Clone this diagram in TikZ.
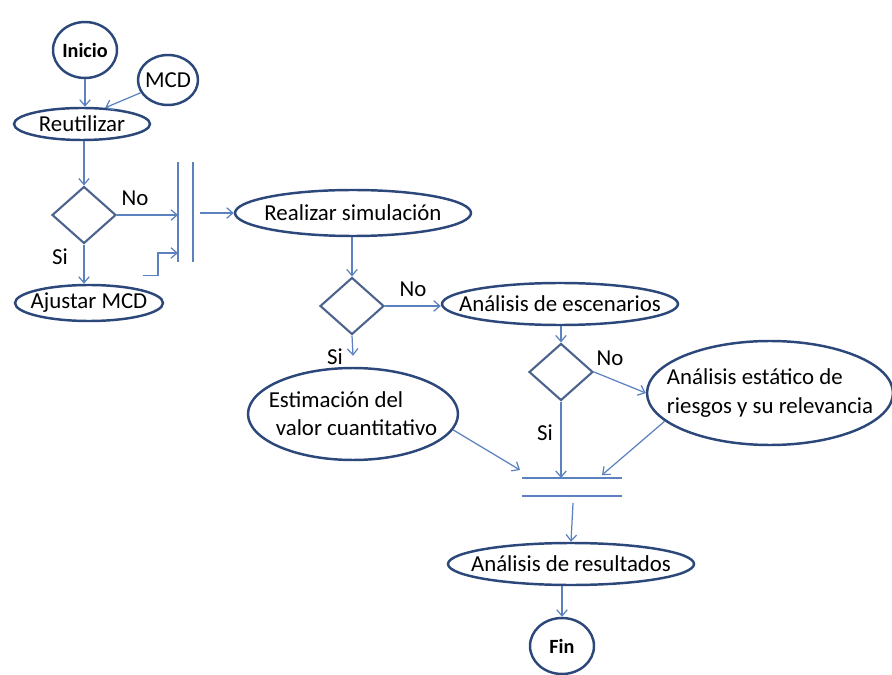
\documentclass[tikz,border=0pt]{standalone}
\usepackage{fontspec}
\setmainfont{Carlito}
\usetikzlibrary{arrows.meta,calc,shapes.geometric}
\definecolor{borde}{RGB}{44,72,122}
\definecolor{linea}{RGB}{91,130,190}

\begin{document}
\begin{tikzpicture}[x=0.02cm,y=-0.02cm,
	elip/.style={ellipse,draw=borde,line width=1.4pt,inner xsep=-20pt,inner ysep=0pt,font=\fontsize{13}{16}\selectfont},
	rombo/.style={diamond,draw=borde!85,line width=1.2pt,inner sep=0pt,minimum width=1.28cm,minimum height=1.14cm},
	flecha/.style={draw=linea,line width=0.7pt,-{Straight Barb[length=3.5pt,width=6pt]}},
	barra/.style={draw=linea,line width=0.8pt},
	etiq/.style={font=\fontsize{13}{15}\selectfont}]
	\useasboundingbox (0,0) rectangle (892,675);
	\node[elip,minimum width=1.28cm,minimum height=1.12cm,font=\fontsize{11.5}{14}\selectfont\bfseries] (ini) at (85,50) {Inicio};
	\node[elip,minimum width=1.2cm,minimum height=1cm] (mcd) at (168,80) {MCD};
	\node[elip,minimum width=2.72cm,minimum height=.64cm] (reu) at (82,124) {Reutilizar};
	\node[rombo] (d1) at (84,215) {};
	\node[elip,minimum width=2.96cm,minimum height=.72cm] (aju) at (89,303) {Ajustar MCD};
	\node[elip,minimum width=4.72cm,minimum height=.92cm] (rea) at (353,213) {Realizar simulación};
	\node[rombo] (d2) at (352,306) {};
	\node[elip,minimum width=4.72cm,minimum height=.84cm] (esc) at (560,304) {Análisis de escenarios};
	\node[elip,minimum width=4.2cm,minimum height=1.84cm,align=left] (est) at (353,414) {Estimación del\\\hspace{4pt}valor cuantitativo};
	\node[rombo] (d3) at (561,372) {};
	\node[elip,minimum width=4.92cm,minimum height=2.08cm,align=left] (sta) at (770,393) {Análisis estático de\\riesgos y su relevancia};
	\node[elip,minimum width=4.92cm,minimum height=.84cm] (res) at (571,564) {Análisis de resultados};
	\node[elip,minimum width=1.28cm,minimum height=1.12cm,font=\fontsize{11.5}{14}\selectfont\bfseries] (fin) at (562,646) {Fin};
	% barras de sincronizacion
	\path
	(178,162) coordinate (b1a) (178,262) coordinate (b1b)
	(193,162) coordinate (b1c) (193,262) coordinate (b1d)
	(522,478) coordinate (b2a) (622,478) coordinate (b2b)
	(522,496) coordinate (b2c) (622,496) coordinate (b2d)
	;
	\draw[barra] (b1a)--(b1b) (b1c)--(b1d) (b2a)--(b2b) (b2c)--(b2d);
	% flechas
	\draw[flecha] (ini.south) -- (ini.south |- reu.north);
	\draw[flecha] (mcd.205) -- (reu.35);
	\draw[flecha] (d1.north |- reu.south) -- (d1.north);
	\draw[flecha] (d1.east) -- (d1.east -| b1a);
	\draw[flecha] (d1.south) -- (d1.south |- aju.north);
	\draw[flecha] ($(aju.north)+(54,-8)$) -- ++(15,0) |- ($(b1a)+(0,91)$);
	\draw[flecha] ($(b1c |- rea.west)+(7,0)$) -- (rea.west);
	\draw[flecha] (rea.south -| d2.north) -- (d2.north);
	\draw[flecha] (d2.east) -- (d2.east -| esc.west);
	\draw[flecha] (d2.south) -- ($(est.north)+(0,-11)$);
	\draw[flecha] (esc.south -| d3.north) -- (d3.north);
	\draw[flecha] (d3.east) -- (sta.west);
	\draw[flecha] (d3.south) -- (d3.south |- b2a);
	\draw[flecha] (est.-9) -- ($(b2a)+(-2,-8)$);
	\draw[flecha] (sta.195) -- ($(b2a)+(80,-3)$);
	\draw[flecha] ($(b2c)+(51,7)$) -- (res.north);
	\draw[flecha] (res.south -| fin.north) -- (fin.north);
	% etiquetas
	\node[etiq] (no1) at (135,198) {No};
	\node[etiq] (si1) at (60,257) {Si};
	\node[etiq] (no2) at (413,289) {No};
	\node[etiq] (si2) at (335,357) {Si};
	\node[etiq] (no3) at (610,358) {No};
	\node[etiq] (si3) at (545,433) {Si};
\end{tikzpicture}
\end{document}
